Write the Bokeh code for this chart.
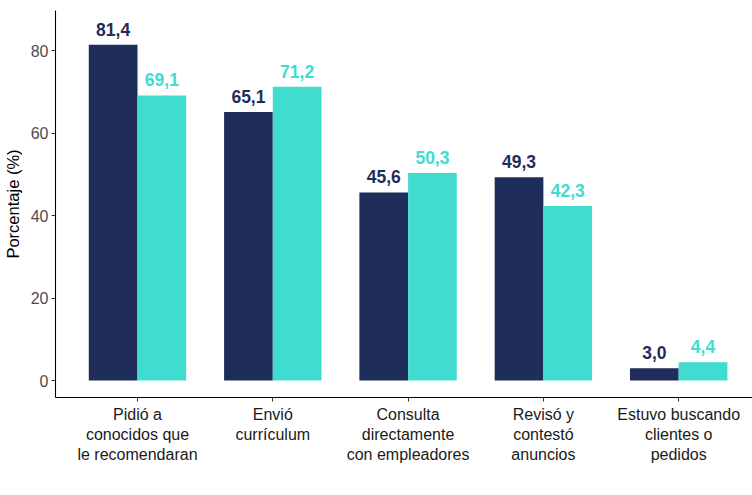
from bokeh.plotting import figure
from bokeh.layouts import column
from bokeh.models import ColumnDataSource, Range1d, FixedTicker, Legend, LegendItem
from bokeh.transform import dodge
from bokeh.core.properties import value
from bokeh.embed import file_html
from bokeh.resources import INLINE

categories = ["Pidió a\nconocidos que\nle recomendaran", "Envió\ncurrículum",
              "Consulta\ndirectamente\ncon empleadores", "Revisó y\ncontestó\nanuncios",
              "Estuvo buscando\nclientes o\npedidos"]
hombres = [81.4, 65.1, 45.6, 49.3, 3.0]
mujeres = [69.1, 71.2, 50.3, 42.3, 4.4]
series = ["Hombres", "Mujeres"]
yticks = [0, 20, 40, 60, 80]

NAVY = "#1F2D5B"
TURQ = "#40DCD0"
FONT = "Liberation Sans"
FS = "16px"

xs = list(range(1, len(categories) + 1))
fmt = lambda v: f"{v:.1f}".replace(".", ",")
src = ColumnDataSource(dict(x=xs, h=hombres, m=mujeres,
                            hl=[fmt(v) for v in hombres], ml=[fmt(v) for v in mujeres]))

p = figure(frame_width=698, frame_height=387, output_backend="svg", toolbar_location=None,
           x_range=Range1d(0.394, 5.553), y_range=Range1d(-4.12, 89.7),
           min_border_left=54, min_border_right=0, min_border_top=10, min_border_bottom=0)
p.background_fill_color = "white"
p.border_fill_color = "white"
p.outline_line_color = None
p.xgrid.visible = False
p.ygrid.visible = False

p.vbar(x=dodge("x", -0.18), top="h", bottom=0, width=0.36, source=src,
       fill_color=NAVY, line_color=None)
p.vbar(x=dodge("x", 0.18), top="m", bottom=0, width=0.36, source=src,
       fill_color=TURQ, line_color=None)

p.text(x=dodge("x", -0.18), y="h", text="hl", source=src, text_align="center",
       text_baseline="bottom", y_offset=-9, text_font=value(FONT), text_font_style="bold",
       text_font_size="17.5px", text_color=NAVY)
p.text(x=dodge("x", 0.18), y="m", text="ml", source=src, text_align="center",
       text_baseline="bottom", y_offset=-9, text_font=value(FONT), text_font_style="bold",
       text_font_size="17.5px", text_color=TURQ)

# axes
p.xaxis.ticker = FixedTicker(ticks=xs)
p.xaxis.major_label_overrides = {i: c for i, c in zip(xs, categories)}
p.xaxis.minor_tick_line_color = None
p.yaxis.minor_tick_line_color = None
p.yaxis.ticker = FixedTicker(ticks=yticks)
for ax in (p.xaxis[0], p.yaxis[0]):
    ax.axis_line_color = "black"
    ax.axis_line_width = 1.1
    ax.major_tick_line_color = "#333333"
    ax.major_tick_out = 4
    ax.major_tick_in = 0
    ax.major_label_text_font = FONT
    ax.major_label_text_font_size = FS
p.xaxis.major_label_text_color = "#1a1a1a"
p.xaxis.major_label_standoff = 4
p.yaxis.major_label_text_color = "#4d4d4d"
p.yaxis.major_label_standoff = 3
p.yaxis.axis_label = "Porcentaje (%)"
p.yaxis.axis_label_text_font = FONT
p.yaxis.axis_label_text_font_size = "16.5px"
p.yaxis.axis_label_text_font_style = "normal"
p.yaxis.axis_label_text_color = "black"
p.yaxis.axis_label_standoff = 6

# legend strip (its own small plot, with off-range key glyphs)
lf = figure(width=752, height=19, output_backend="svg", toolbar_location=None,
            x_range=Range1d(0, 1), y_range=Range1d(0, 1),
            x_axis_location=None, y_axis_location=None,
            min_border_left=0, min_border_right=0, min_border_top=0, min_border_bottom=0)
lf.outline_line_color = None
lf.xgrid.visible = False
lf.ygrid.visible = False
lf.margin = (38, 0, 0, 0)
dh = lf.vbar(x=[-5], top=[1], bottom=0, width=1, fill_color=NAVY, line_color=None)
dm = lf.vbar(x=[-5], top=[1], bottom=0, width=1, fill_color=TURQ, line_color=None)
legend = Legend(items=[LegendItem(label=series[0], renderers=[dh]),
                       LegendItem(label=series[1], renderers=[dm])],
                orientation="horizontal", location=(258, 0),
                label_text_font=FONT, label_text_font_size=FS, label_text_color="#1a1a1a",
                glyph_width=18, glyph_height=18, spacing=18, label_standoff=7,
                border_line_color=None, background_fill_alpha=0, margin=0, padding=0)
lf.add_layout(legend, "center")

open("out.html", "w").write(file_html(column(p, lf, spacing=0), INLINE))
